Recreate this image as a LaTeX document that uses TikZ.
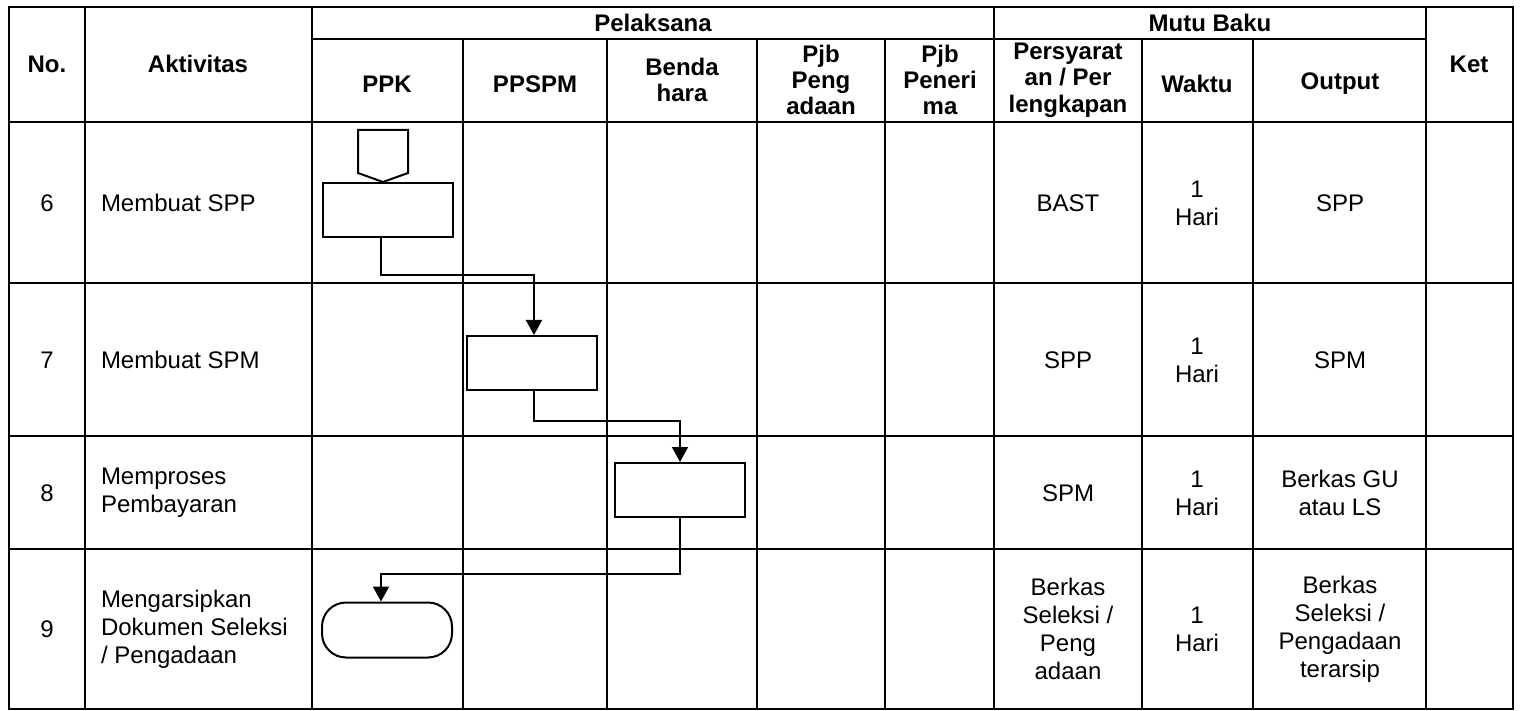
\documentclass[tikz,border=0pt]{standalone}
\usepackage{fontspec}
\setmainfont{Liberation Sans}
\usetikzlibrary{positioning,arrows.meta}

\begin{document}
\begin{tikzpicture}[x=0.5pt,y=-0.5pt,line width=1pt,
    proses/.style={draw,line width=1pt,minimum width=65pt,minimum height=27pt,inner sep=0pt},
    terminal/.style={draw,line width=1pt,rounded corners=12pt,minimum width=65pt,minimum height=27.5pt,inner sep=0pt},
    alur/.style={line width=1pt,-{Triangle[length=7.5pt,width=8pt]}},
    isi/.style={align=center,inner sep=0pt,font=\fontsize{12}{14}\selectfont},
    judul/.style={align=center,inner sep=0pt,font=\fontsize{12}{13.2}\selectfont\bfseries}]
    \useasboundingbox (0,0) rectangle (1521,711);
    % garis tabel
        \draw (9,7) rectangle (1513,709);
        \draw (312,39)--(1426,39);
        \foreach \y in {122,283,436,549} \draw (9,\y)--(1513,\y);
        \foreach \x in {85,312,994,1426} \draw (\x,7)--(\x,709);
        \foreach \x in {463,607,757,885,1142,1253} \draw (\x,39)--(\x,709);
    % kepala tabel
        \node[judul] (hno) at (47,64) {No.};
        \node[judul] (hakt) at (198,64) {Aktivitas};
        \node[judul] (hpel) at (653,23) {Pelaksana};
        \node[judul] (hmutu) at (1210,23) {Mutu Baku};
        \node[judul] (hket) at (1469,64) {Ket};
        \node[judul] (hppk) at (387,84) {PPK};
        \node[judul] (hppspm) at (535,84) {PPSPM};
        \node[judul] (hbend) at (682,80) {Benda\\hara};
        \node[judul] (hpeng) at (821,80) {Pjb\\Peng\\adaan};
        \node[judul] (hpene) at (940,80) {Pjb\\Peneri\\ma};
        \node[judul] (hsyarat) at (1068,80) {Persyarat\\an / Per\\lengkapan};
        \node[judul] (hwaktu) at (1197,84) {Waktu};
        \node[judul] (hout) at (1340,84) {Output};
    % nomor dan aktivitas
        \node[isi] (no6) at (47,203) {6};
        \node[isi] (no7) at (47,360) {7};
        \node[isi] (no8) at (47,493) {8};
        \node[isi] (no9) at (47,629) {9};
        \node[isi,anchor=west,align=left] (akt6) at (100,203) {Membuat SPP};
        \node[isi,anchor=west,align=left] (akt7) at (100,360) {Membuat SPM};
        \node[isi,anchor=west,align=left] (akt8) at (100,493) {Memproses\\Pembayaran};
        \node[isi,anchor=west,align=left] (akt9) at (100,629) {Mengarsipkan\\Dokumen Seleksi\\/ Pengadaan};
    % mutu baku
        \node[isi] (syr6) at (1068,203) {BAST};
        \node[isi] (syr7) at (1068,360) {SPP};
        \node[isi] (syr8) at (1068,493) {SPM};
        \node[isi] (syr9) at (1068,629) {Berkas\\Seleksi /\\Peng\\adaan};
        \node[isi] (wkt6) at (1197,203) {1\\Hari};
        \node[isi] (wkt7) at (1197,360) {1\\Hari};
        \node[isi] (wkt8) at (1197,493) {1\\Hari};
        \node[isi] (wkt9) at (1197,629) {1\\Hari};
        \node[isi] (out6) at (1340,203) {SPP};
        \node[isi] (out7) at (1340,360) {SPM};
        \node[isi] (out8) at (1340,493) {Berkas GU\\atau LS};
        \node[isi] (out9) at (1340,629) {Berkas\\Seleksi /\\Pengadaan\\terarsip};
    % bagan alir
        \draw (358,130)--(408,130)--(408,173)--(383,182)--(358,173)--cycle;
        \node[proses] (p1) at (388,210) {};
        \node[proses] (p2) at (532,363) {};
        \node[proses] (p3) at (680,490) {};
        \node[terminal] (t1) at (387,630) {};
        \draw[alur] ([xshift=-3.5pt]p1.south) -- ++(0,37) -| ([xshift=1pt]p2.north);
        \draw[alur] ([xshift=1pt]p2.south) -- ++(0,30) -| (p3.north);
        \draw[alur] (p3.south) -- ++(0,56) -| ([xshift=-3pt]t1.north);
    \end{tikzpicture}
\end{document}
